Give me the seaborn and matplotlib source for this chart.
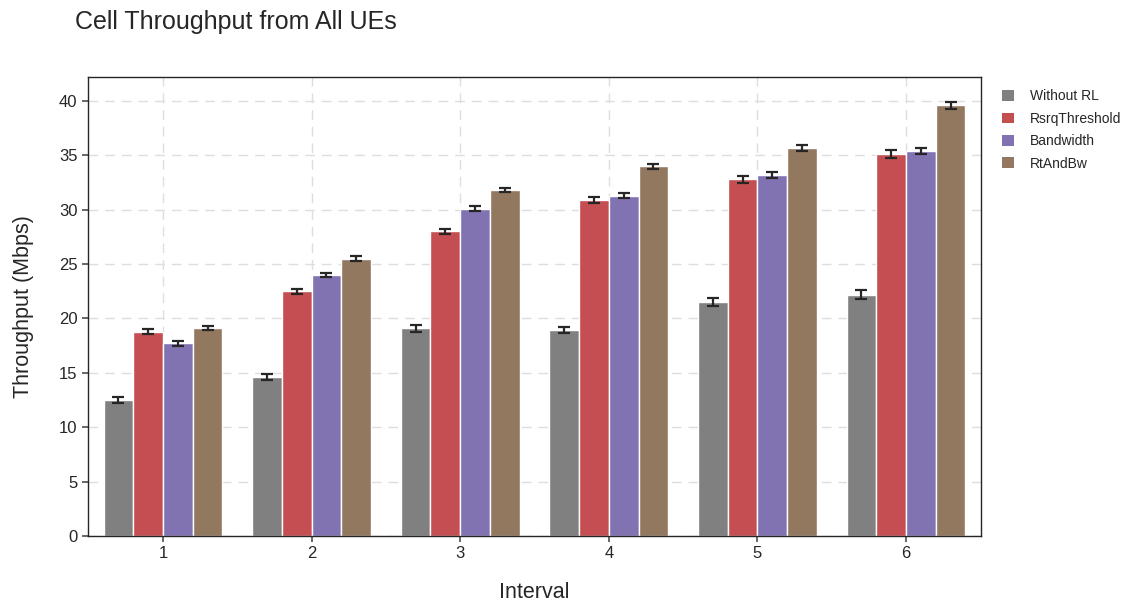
import numpy as np
import pandas as pd
import matplotlib
matplotlib.use("Agg")
import matplotlib.pyplot as plt
import seaborn as sns

intervals = ["1", "2", "3", "4", "5", "6"]
methods = ["Without RL", "RsrqThreshold", "Bandwidth", "RtAndBw"]

without_rl = [12.5, 14.6, 19.1, 18.9, 21.5, 22.2]
rsrq_threshold = [18.8, 22.5, 28.0, 30.9, 32.8, 35.1]
bandwidth = [17.7, 24.0, 30.1, 31.3, 33.2, 35.4]
rt_and_bw = [19.1, 25.5, 31.8, 34.0, 35.7, 39.6]

err_without_rl = [0.25, 0.28, 0.3, 0.28, 0.35, 0.38]
err_rsrq_threshold = [0.22, 0.25, 0.22, 0.3, 0.32, 0.35]
err_bandwidth = [0.22, 0.22, 0.2, 0.25, 0.28, 0.3]
err_rt_and_bw = [0.2, 0.2, 0.2, 0.22, 0.28, 0.3]

palette = ["#808080", "#C44E52", "#8172B2", "#937860"]

values = [without_rl, rsrq_threshold, bandwidth, rt_and_bw]
errors = [err_without_rl, err_rsrq_threshold, err_bandwidth, err_rt_and_bw]

df = pd.DataFrame({
    "Interval": np.tile(intervals, len(methods)),
    "Method": np.repeat(methods, len(intervals)),
    "Throughput": np.concatenate(values),
    "Err": np.concatenate(errors),
})

sns.set_theme(style="ticks")
plt.rcParams["font.family"] = ["Liberation Sans", "DejaVu Sans"]

fig = plt.figure(figsize=(11.25, 6.04), dpi=100)
ax = fig.add_axes([88 / 1125, 68 / 604, (981 - 88) / 1125, (536 - 77) / 604])

sns.barplot(data=df, x="Interval", y="Throughput", hue="Method",
            order=intervals, hue_order=methods, palette=palette,
            errorbar=None, edgecolor="white", linewidth=1.0,
            saturation=1.0, ax=ax, zorder=2)

# error bars centred on each drawn bar
for container, method in zip(ax.containers, methods):
    sub = df[df["Method"] == method].set_index("Interval").loc[intervals]
    xs = [b.get_x() + b.get_width() / 2 for b in container]
    ax.errorbar(xs, sub["Throughput"].values, yerr=sub["Err"].values,
                fmt="none", ecolor="#262626", elinewidth=1.6,
                capsize=4, capthick=1.6, zorder=3)

ax.set_ylim(0, 42.2)
ax.set_xlim(-0.505, 5.505)
ax.set_yticks(range(0, 41, 5))
ax.grid(True, linestyle=(0, (7, 5)), color="#dedede", linewidth=1.0, zorder=0)
ax.set_axisbelow(True)
for s in ax.spines.values():
    s.set_color("#262626")
    s.set_linewidth(1.0)
ax.tick_params(axis="both", labelsize=12, length=4, color="#555555", labelcolor="#262626")

ax.set_xlabel("Interval", fontsize=15.5, color="#262626", labelpad=15)
ax.set_ylabel("Throughput (Mbps)", fontsize=15.5, color="#262626", labelpad=18)

leg = ax.legend(loc="upper left", bbox_to_anchor=(1.01, 1.0), frameon=False,
                fontsize=10, handlelength=0.8, handleheight=0.8,
                handletextpad=1.2, labelspacing=0.6)
for h in leg.legend_handles:
    h.set_edgecolor("none")

fig.text(75 / 1125, 1 - 22 / 604, "Cell Throughput from All UEs",
         fontsize=18, color="#262626", va="center", ha="left")

fig.savefig("out.png", dpi=100)
